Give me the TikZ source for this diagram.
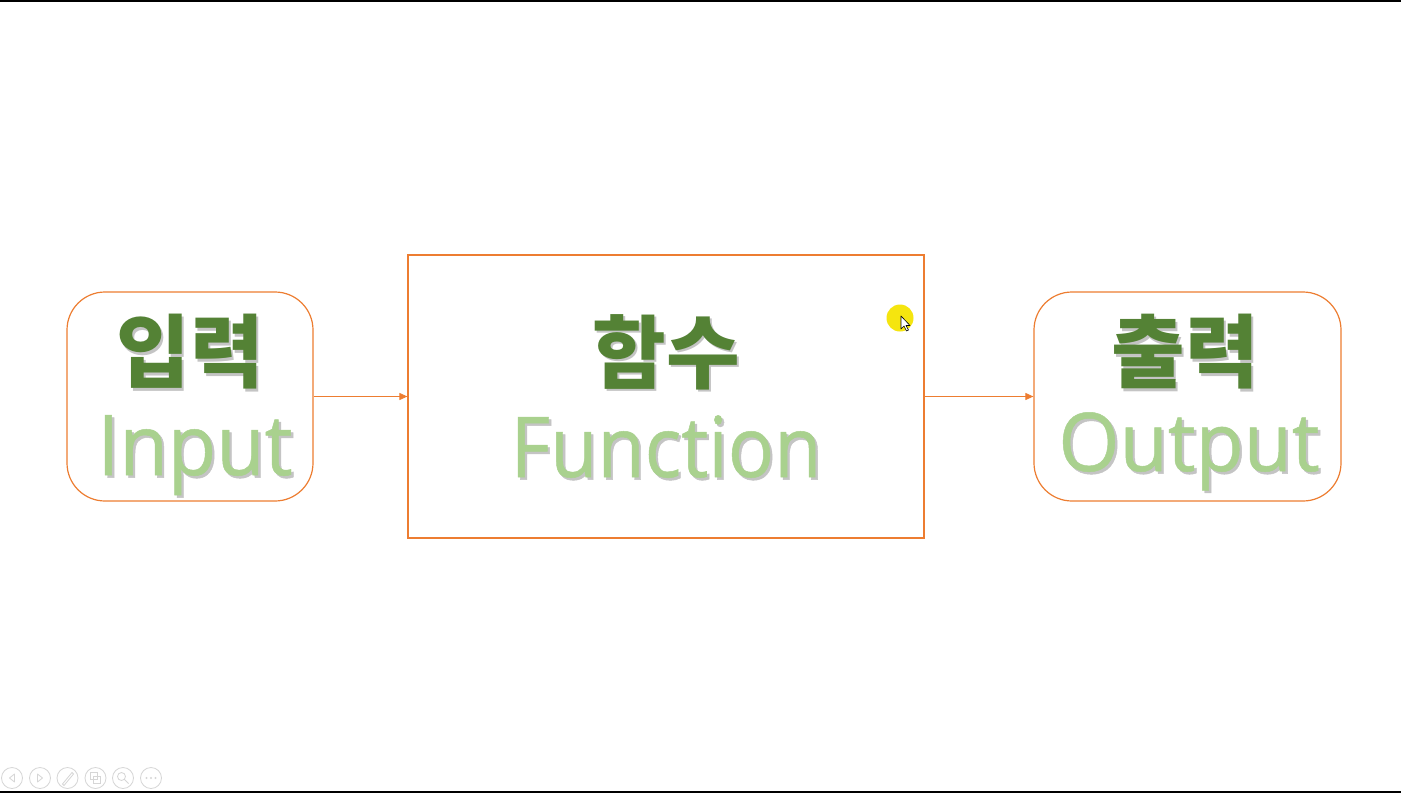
\documentclass[tikz,border=0pt]{standalone}
\usepackage{fontspec}
\usepackage{graphicx}
\setmainfont{Open Sans}[FakeBold=0.6]
\newfontfamily\kr{Noto Sans CJK KR}
\usetikzlibrary{arrows.meta}
\definecolor{bord}{HTML}{ED7D31}
\definecolor{dkgreen}{HTML}{548235}
\definecolor{ltgreen}{HTML}{A9D18E}
\definecolor{shadowgray}{HTML}{C4C4C4}
\definecolor{ctrl}{HTML}{D6D6D6}
\definecolor{hilite}{HTML}{F5E50F}
\newcommand{\shd}[1]{\leavevmode\rlap{\smash{\kern2.5pt\raisebox{-2.5pt}{\textcolor{shadowgray}{#1}}}}#1}
\tikzset{
  roundbox/.style={draw=bord, line width=1.2pt, rounded corners=38pt, inner sep=0pt},
  sqbox/.style={draw=bord, line width=1.2pt, inner sep=0pt},
  conn/.style={draw=bord, line width=0.9pt, -{Triangle[length=8pt,width=7pt]}},
  krlabel/.style={inner sep=0pt, text=dkgreen, font=\kr\bfseries\fontsize{80}{80}\selectfont},
  enlabel/.style={inner sep=0pt, anchor=base, text=ltgreen},
  ctrlbtn/.style={circle, draw=ctrl, line width=0.8pt, minimum size=21pt, inner sep=0pt}
}
\begin{document}
\begin{tikzpicture}[x=1pt,y=-1pt]
\useasboundingbox (0,0) rectangle (1401,793);
\fill[white] (0,0) rectangle (1401,793);
\fill[black] (0,0) rectangle (1401,1.5);
\fill[black] (0,790.8) rectangle (1401,793);

% boxes
\node[roundbox, minimum width=246pt, minimum height=209pt] (in) at (190,396.5) {};
\node[sqbox, minimum width=516pt, minimum height=283pt] (fn) at (666,396.5) {};
\node[roundbox, minimum width=307pt, minimum height=209pt] (out) at (1187.5,396.5) {};

% connectors
\draw[conn] (in.east) -- (fn.west);
\draw[conn] (fn.east) -- (out.west);

% Korean labels
\node[krlabel] (inkr) at (190,352) {\shd{입력}};
\node[krlabel] (fnkr) at (666,352) {\shd{함수}};
\node[krlabel] (outkr) at (1185,352) {\shd{출력}};

% English labels
\node[enlabel, font=\fontsize{84}{84}\selectfont] (inen) at (195,475) {\scalebox{0.94}[1]{\shd{Input}}};
\node[enlabel, font=\fontsize{84}{84}\selectfont] (fnen) at (666,477) {\scalebox{0.915}[1]{\shd{Function}}};
\node[enlabel, font=\fontsize{81}{81}\selectfont] (outen) at (1189,471) {\scalebox{0.97}[1]{\shd{Output}}};

% pointer highlight
\fill[hilite] (900,318) circle (13.5);
\draw[black, fill=white, line width=0.6pt, line join=round]
  (901,316) -- (901,329) -- (904,326) -- (906.5,331) -- (908.5,330) -- (906,325.5) -- (910,325.5) -- cycle;

% slideshow controls
\node[ctrlbtn] (b1) at (12,778) {};
\node[ctrlbtn] (b2) at (40,778) {};
\node[ctrlbtn] (b3) at (67.5,778) {};
\node[ctrlbtn] (b4) at (95.5,778) {};
\node[ctrlbtn] (b5) at (123,778) {};
\node[ctrlbtn] (b6) at (151,778) {};
\draw[ctrl, line width=0.8pt, line join=round] (14.5,774) -- (9.5,778) -- (14.5,782) -- cycle;
\draw[ctrl, line width=0.8pt, line join=round] (37.5,774) -- (42.5,778) -- (37.5,782) -- cycle;
\draw[ctrl, line width=0.8pt] (62.5,784) -- (72,772.5) -- (73.5,774) -- (64,785.5) -- cycle;
\draw[ctrl, line width=0.8pt] (90.5,772.5) rectangle (97.5,779.5) (93.5,776.5) rectangle (100.5,783.5);
\draw[ctrl, line width=0.8pt] (121.5,776.5) circle (4) (124.5,779.5) -- (128.5,783.5);
\fill[ctrl] (146.5,778) circle (1.2) (151,778) circle (1.2) (155.5,778) circle (1.2);
\end{tikzpicture}
\end{document}
